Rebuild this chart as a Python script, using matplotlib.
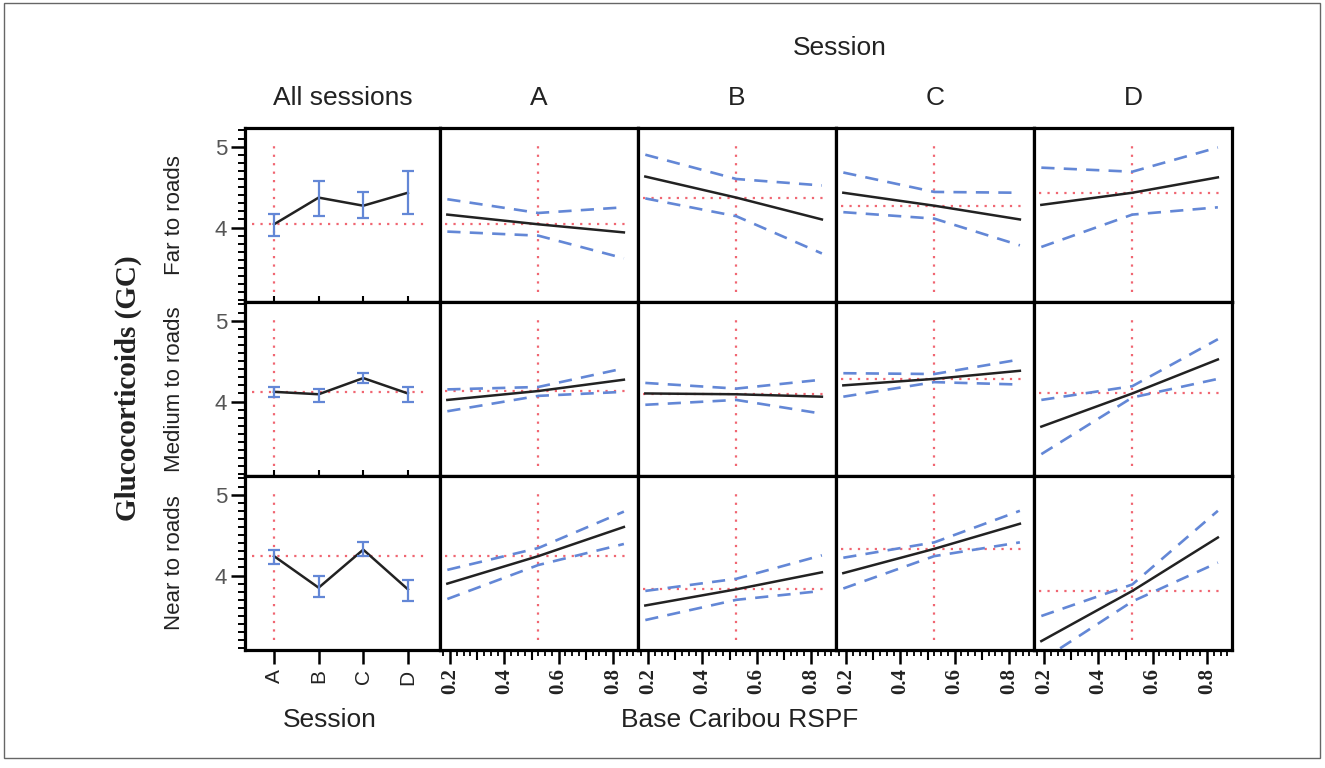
import matplotlib.pyplot as plt
import numpy as np
from matplotlib.ticker import MultipleLocator, FixedLocator
from matplotlib.patches import Rectangle

# data
sessions = ['A', 'B', 'C', 'D']
row_names = ['Far to roads', 'Medium to roads', 'Near to roads']

# All sessions panel: mean GC and error bar ends per session
gc_mean = [[4.04, 4.37, 4.27, 4.43],
           [4.12, 4.09, 4.29, 4.10],
           [4.24, 3.85, 4.32, 3.83]]
gc_lo = [[3.89, 4.14, 4.12, 4.17],
         [4.06, 3.99, 4.23, 3.99],
         [4.14, 3.73, 4.24, 3.69]]
gc_hi = [[4.17, 4.58, 4.44, 4.70],
         [4.18, 4.16, 4.35, 4.18],
         [4.32, 3.99, 4.41, 3.94]]

# RSPF panels: fit and confidence band at three RSPF values
rspf_x = [0.19, 0.525, 0.84]
fit_far = [[4.16, 4.04, 3.94], [4.63, 4.37, 4.10], [4.43, 4.27, 4.10], [4.28, 4.43, 4.62]]
up_far = [[4.35, 4.18, 4.25], [4.90, 4.60, 4.52], [4.68, 4.44, 4.43], [4.74, 4.69, 4.99]]
lo_far = [[3.95, 3.90, 3.62], [4.36, 4.14, 3.68], [4.19, 4.11, 3.78], [3.76, 4.16, 4.25]]

fit_med = [[4.02, 4.13, 4.27], [4.10, 4.09, 4.06], [4.20, 4.28, 4.38], [3.69, 4.10, 4.52]]
up_med = [[4.15, 4.18, 4.41], [4.23, 4.16, 4.27], [4.35, 4.34, 4.52], [4.02, 4.19, 4.77]]
lo_med = [[3.88, 4.07, 4.12], [3.96, 4.02, 3.85], [4.06, 4.24, 4.21], [3.35, 4.05, 4.28]]

fit_near = [[3.90, 4.24, 4.60], [3.63, 3.83, 4.04], [4.03, 4.33, 4.64], [3.19, 3.81, 4.47]]
up_near = [[4.07, 4.34, 4.79], [3.81, 3.96, 4.25], [4.22, 4.41, 4.80], [3.50, 3.89, 4.80]]
lo_near = [[3.71, 4.13, 4.39], [3.45, 3.70, 3.81], [3.84, 4.24, 4.41], [2.95, 3.68, 4.16]]

fits = [fit_far, fit_med, fit_near]
ups = [up_far, up_med, up_near]
los = [lo_far, lo_med, lo_near]

W, H = 1325, 768
fig = plt.figure(figsize=(W / 100, H / 100), dpi=100)

col_px = [245, 440, 638, 836, 1034, 1232]
row_px = [128, 302, 476, 650]

red = '#f06672'
blue = '#6387d6'
sans = 'Liberation Sans'
serif = 'Liberation Serif'
dot = dict(color=red, lw=1.6, dashes=(1, 2.8))

for r in range(3):
    for c in range(5):
        x0 = col_px[c] / W
        w = (col_px[c + 1] - col_px[c]) / W
        y0 = 1 - row_px[r + 1] / H
        h = (row_px[r + 1] - row_px[r]) / H
        ax = fig.add_axes([x0, y0, w, h])
        ax.set_ylim(3.08, 5.23)
        for s in ax.spines.values():
            s.set_linewidth(2.3)
        if c == 0:
            xs = np.arange(len(sessions))
            m = np.array(gc_mean[r])
            ax.plot([0, 0], [3.2, 5.06], **dot)
            ax.plot([-0.5, 3.45], [m[0], m[0]], **dot)
            ax.plot(xs, m, color='#222222', lw=1.8)
            ax.errorbar(xs, m, yerr=[m - np.array(gc_lo[r]), np.array(gc_hi[r]) - m],
                        fmt='none', ecolor=blue, elinewidth=1.6, capsize=4, capthick=1.6)
            ax.set_xlim(-0.65, 3.72)
            ax.set_xticks(xs)
            if r == 2:
                ax.set_xticklabels(sessions, rotation=90, fontsize=15, family=sans, color='#222')
                ax.tick_params(axis='x', direction='out', length=10, width=1.8, pad=4)
            else:
                ax.tick_params(axis='x', direction='in', length=4, width=1.5, labelbottom=False)
            ax.set_yticks([4, 5])
            ax.yaxis.set_minor_locator(MultipleLocator(0.1))
            ax.tick_params(axis='y', which='major', direction='out', length=10, width=1.8,
                           labelsize=16, labelcolor='#555555', pad=3)
            ax.tick_params(axis='y', which='minor', direction='out', length=5, width=1.4)
            for t in ax.get_yticklabels():
                t.set_family(sans)
        else:
            k = c - 1
            ref = fits[r][k][1]
            ax.plot([0.525, 0.525], [3.2, 5.06], **dot)
            ax.plot([0.18, 0.86], [ref, ref], **dot)
            ax.plot(rspf_x, ups[r][k], color=blue, lw=1.9, dashes=(5, 3.5))
            ax.plot(rspf_x, los[r][k], color=blue, lw=1.9, dashes=(5, 3.5))
            ax.plot(rspf_x, fits[r][k], color='#222222', lw=1.8)
            ax.set_xlim(0.163, 0.892)
            ax.set_yticks([])
            if r == 2:
                ax.set_xticks([0.2, 0.4, 0.6, 0.8])
                ax.set_xticklabels(['0.2', '0.4', '0.6', '0.8'], rotation=90, fontsize=15,
                                   family=serif, fontweight='bold', color='#222')
                ax.xaxis.set_minor_locator(FixedLocator(np.arange(0.175, 0.9, 0.025)))
                ax.tick_params(axis='x', which='major', direction='out', length=10, width=1.8, pad=3)
                ax.tick_params(axis='x', which='minor', direction='out', length=4.5, width=1.3)
                sec = ax.secondary_xaxis('bottom')
                sec.set_xticks([0.3, 0.5, 0.7])
                sec.tick_params(axis='x', direction='out', length=7, width=1.5, labelbottom=False)
                sec.spines['bottom'].set_visible(False)
            else:
                ax.set_xticks([])

# headers
fig.text(840 / W, 1 - 48 / H, 'Session', ha='center', va='center', fontsize=19, family=sans, color='#222')
headers = ['All sessions'] + sessions
for c, lab in enumerate(headers):
    xc = (col_px[c] + col_px[c + 1]) / 2 / W
    fig.text(xc, 1 - 98 / H, lab, ha='center', va='center', fontsize=19, family=sans, color='#222')

# row labels
for r, lab in enumerate(row_names):
    yc = 1 - (row_px[r] + row_px[r + 1]) / 2 / H
    fig.text(175 / W, yc, lab, rotation=90, ha='center', va='center', fontsize=16, family=sans, color='#222')

fig.text(128 / W, 1 - 388 / H, 'Glucocorticoids (GC)', rotation=90, ha='center', va='center',
         fontsize=21, family=serif, fontweight='bold', color='#222')

fig.text(330 / W, 1 - 720 / H, 'Session', ha='center', va='center', fontsize=19, family=sans, color='#222')
fig.text(740 / W, 1 - 720 / H, 'Base Caribou RSPF', ha='center', va='center', fontsize=19, family=sans, color='#222')

fig.add_artist(Rectangle((4 / W, 10 / H), 1316 / W, 755 / H, transform=fig.transFigure,
                         fill=False, edgecolor='#666666', lw=1))

fig.savefig('out.png', dpi=100)
